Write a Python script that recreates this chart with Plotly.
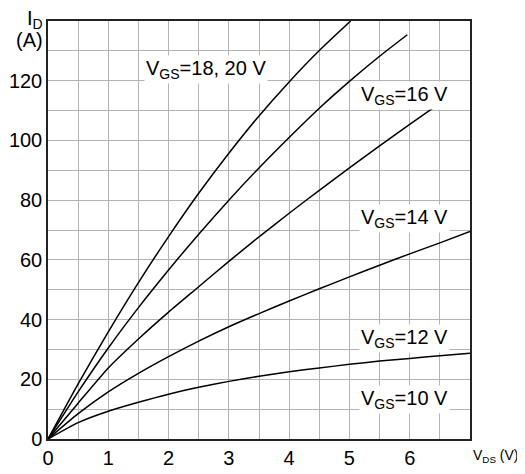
import plotly.graph_objects as go

# Data (V_DS in V, I_D in A)
vds_18_20 = [0, 0.5, 1.0, 1.5, 2.0, 2.5, 3.0, 3.5, 4.0, 4.5, 5.02]
id_18_20 = [0, 18.5, 35.9, 52.4, 67.8, 82.3, 95.7, 108.2, 119.6, 130.1, 140.0]

vds_16 = [0, 0.5, 1.0, 1.5, 2.0, 2.5, 3.0, 3.5, 4.0, 4.5, 5.0, 5.5, 5.96]
id_16 = [0, 15.8, 30.5, 44.0, 56.6, 68.6, 80.0, 90.8, 101.0, 110.8, 119.8, 128.2, 135.4]

vds_14 = [0, 0.5, 1.0, 1.5, 2.0, 2.5, 3.0, 3.5, 4.0, 4.5, 5.0, 5.5, 6.0, 6.49]
id_14 = [0, 12.0, 23.8, 33.5, 42.5, 51.0, 59.5, 67.7, 75.6, 83.3, 90.8, 98.2, 105.4, 112.3]

vds_12 = [0, 0.5, 1.0, 1.5, 2.0, 2.5, 3.0, 3.5, 4.0, 4.5, 5.0, 5.5, 6.0, 6.5, 7.0]
id_12 = [0, 8.5, 15.8, 22.0, 27.6, 32.8, 37.6, 42.0, 46.2, 50.3, 54.3, 58.2, 62.0, 65.7, 69.5]

vds_10 = [0, 0.5, 1.0, 1.5, 2.0, 2.5, 3.0, 3.5, 4.0, 4.5, 5.0, 5.5, 6.0, 6.5, 7.0]
id_10 = [0, 5.5, 9.3, 12.3, 15.0, 17.3, 19.3, 21.0, 22.5, 23.8, 25.0, 26.1, 27.0, 27.9, 28.7]

x_ticks = [0, 1, 2, 3, 4, 5, 6]
x_minor = [0.5, 1.5, 2.5, 3.5, 4.5, 5.5, 6.5, 7]
y_ticks = [0, 20, 40, 60, 80, 100, 120]
y_minor = [10, 30, 50, 70, 90, 110, 130]

labels = ["V<sub>GS</sub>=18, 20 V", "V<sub>GS</sub>=16 V", "V<sub>GS</sub>=14 V",
          "V<sub>GS</sub>=12 V", "V<sub>GS</sub>=10 V"]

FONT = "Liberation Sans, Arial, sans-serif"

fig = go.Figure()
for xs, ys in [(vds_18_20, id_18_20), (vds_16, id_16), (vds_14, id_14),
               (vds_12, id_12), (vds_10, id_10)]:
    fig.add_trace(go.Scatter(x=xs, y=ys, mode="lines",
                             line=dict(color="black", width=1.5, shape="spline", smoothing=0.6),
                             showlegend=False, hoverinfo="skip"))

grid = "#b4b4b4"
fig.update_xaxes(range=[0, 7], tickmode="array", tickvals=x_ticks, showgrid=True,
                 gridcolor=grid, gridwidth=1, zeroline=False, showline=True,
                 linecolor="#222222", linewidth=1.5, mirror=True, ticks="",
                 automargin=False,
                 tickfont=dict(family=FONT, size=20, color="black"),
                 minor=dict(tickmode="array", tickvals=x_minor, showgrid=True,
                            gridcolor=grid, gridwidth=1, ticks=""))
fig.update_yaxes(range=[0, 140], tickmode="array", tickvals=y_ticks, showgrid=True,
                 gridcolor=grid, gridwidth=1, zeroline=False, showline=True,
                 linecolor="#222222", linewidth=1.5, mirror=True, ticks="",
                 automargin=False,
                 tickfont=dict(family=FONT, size=20, color="black"),
                 minor=dict(tickmode="array", tickvals=y_minor, showgrid=True,
                            gridcolor=grid, gridwidth=1, ticks=""))

# curve labels (positions in data coordinates)
label_pos = [(1.60, 123.8), (5.16, 115.0), (5.16, 74.0), (5.16, 33.5), (5.16, 13.1)]
for txt, (lx, ly) in zip(labels, label_pos):
    fig.add_annotation(x=lx, y=ly, xref="x", yref="y", text=txt, showarrow=False,
                       xanchor="left", yanchor="middle", bgcolor="white",
                       borderpad=1, font=dict(family=FONT, size=20, color="black"))

# axis titles
fig.add_annotation(x=0, y=1.003, xref="paper", yref="paper", text="I<sub>D</sub>", showarrow=False,
                   xanchor="right", yanchor="middle", xshift=-3,
                   font=dict(family=FONT, size=20, color="black"))
fig.add_annotation(x=0, y=0.955, xref="paper", yref="paper", text="(A)", showarrow=False,
                   xanchor="right", yanchor="middle", xshift=-3,
                   font=dict(family=FONT, size=20, color="black"))
fig.add_annotation(x=1.122, y=-0.04, xref="paper", yref="paper", text="V<sub>DS</sub> (V)",
                   showarrow=False, xanchor="right", yanchor="middle",
                   font=dict(family=FONT, size=14, color="black"))

# page shows the figure offset by the default 8 px body margin
fig.update_layout(width=517, height=466, margin=dict(l=40, r=54.5, t=13, b=34.5, autoexpand=False),
                  paper_bgcolor="white", plot_bgcolor="white")

fig.write_html("out.html")
